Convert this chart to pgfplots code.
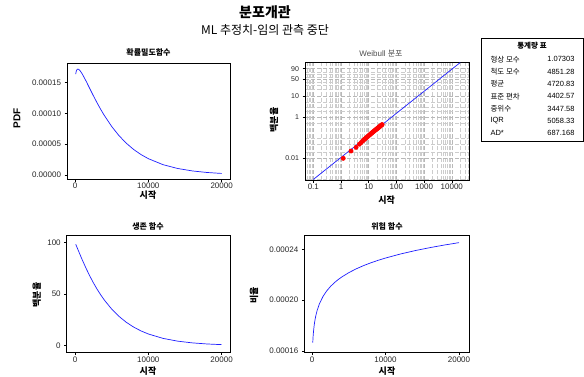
\documentclass[border=0pt]{standalone}
\usepackage{fontspec}
\setmainfont{Liberation Sans}
\newfontfamily\kr{Noto Sans CJK KR}
\usepackage{pgfplots}
\pgfplotsset{compat=1.18}
\definecolor{curve}{RGB}{30,30,255}
\pgfplotsset{
  panel/.style={
    scale only axis, anchor=south west,
    axis line style={line width=0.9pt},
    tick align=outside, major tick length=2.5pt, minor tick length=0pt,
    tick style={black, line width=0.5pt},
    xtick pos=bottom, ytick pos=left,
    scaled ticks=false,
    tick label style={font=\fontsize{8}{9}\selectfont, text=black!85},
    xticklabel style={inner sep=1.5pt},
    /pgf/number format/assume math mode=true,
    xtick={0,10000,20000}, xticklabels={0,10000,20000},
    clip=true,
  }
}
\begin{document}
\begin{tikzpicture}[x=1pt,y=1pt]
\useasboundingbox (0,0) rectangle (584,376);
% titles
\node[font=\kr\bfseries\fontsize{14}{16}\selectfont] at (265,364) {분포개관};
\node[font=\kr\fontsize{12}{14}\selectfont] at (265,346) {ML 추정치-임의 관측 중단};

% Panel 1: PDF
\begin{axis}[panel, at={(67pt,197pt)}, width=163pt, height=116pt,
  xmin=-1090, xmax=21140, ymin=-0.0000065, ymax=0.000182,
  ytick={0,0.00005,0.0001,0.00015}, yticklabels={0.00000,0.00005,0.00010,0.00015}]
\addplot[curve, line width=0.7pt] coordinates {
(100,1.6402e-4)(150,1.6753e-4)(200,1.6961e-4)(300,1.7162e-4)(400,1.7210e-4)(500,1.7170e-4)
(700,1.6942e-4)(1000,1.6402e-4)(1500,1.5286e-4)(2000,1.4088e-4)(2500,1.2898e-4)
(3000,1.1755e-4)(3500,1.0678e-4)(4000,9.674e-5)(5000,7.892e-5)(6000,6.398e-5)
(7000,5.162e-5)(8000,4.148e-5)(9000,3.323e-5)(10000,2.655e-5)(12000,1.682e-5)
(14000,1.058e-5)(16000,6.61e-6)(18000,4.10e-6)(20000,2.54e-6)};
\end{axis}
\node[font=\kr\bfseries\fontsize{8}{9}\selectfont] at (148.5,324) {확률밀도함수};
\node[font=\kr\bfseries\fontsize{9}{10}\selectfont, inner sep=0.5pt] at (148,181) {시작};
\node[font=\bfseries\fontsize{10}{12}\selectfont, rotate=90] at (17,257.7) {PDF};

% Panel 2: Weibull probability plot
\begin{axis}[panel, at={(305pt,196pt)}, width=164pt, height=117.3pt,
  xmode=log, xmin=0.0501, xmax=41687, ymin=-11.64, ymax=1.507,
  xtick={0.1,1,10,100,1000,10000}, xticklabels={0.1,1,10,100,1000,10000},
  minor xtick={0.06,0.07,0.08,0.09,0.2,0.3,0.4,0.5,0.6,0.7,0.8,0.9,2,3,4,5,6,7,8,9,20,30,40,50,60,70,80,90,200,300,400,500,600,700,800,900,2000,3000,4000,5000,6000,7000,8000,9000,20000,30000,40000},
  ytick={-9.2103,-4.6002,-2.2504,-0.3665,0.8340}, yticklabels={0.01,1,10,50,90},
  minor ytick={-11.513,-8.517,-7.600,-6.907,-5.296,-3.902,-3.491,-2.970,-1.500,-1.031,-0.672,-0.087,0.186,0.476},
  yticklabel style={font=\fontsize{7}{8}\selectfont},
  grid=both,
  major grid style={dash pattern=on 4pt off 2pt, black!28, line width=0.5pt},
  minor grid style={dash pattern=on 4pt off 2pt, black!20, line width=0.5pt}]
\addplot[curve, line width=0.7pt] coordinates {(0.1,-11.578)(20000,1.520)};
\addplot[only marks, mark=*, red, mark size=2.2pt] coordinates {
(1.2,-9.21)(2.3,-8.39)(3.5,-7.98)(4.6,-7.62)(5.3,-7.45)(6.0,-7.28)(6.6,-7.15)(7.2,-7.05)
(7.8,-6.96)(8.4,-6.87)(9.0,-6.79)(9.7,-6.70)(10.4,-6.62)(11.1,-6.55)(11.8,-6.47)(12.6,-6.40)
(13.4,-6.33)(14.2,-6.26)(15.0,-6.20)(16.0,-6.13)(17.0,-6.06)(18.0,-6.00)(19.0,-5.94)(20.0,-5.89)
(21.0,-5.84)(22.0,-5.79)(23.0,-5.74)(24.0,-5.69)(25.0,-5.65)(26.0,-5.60)(27.5,-5.54)(29.0,-5.48)(30.5,-5.43)};
\end{axis}
\node[font=\fontsize{8}{9}\selectfont, text=black!70] at (381,322) {Weibull {\kr 분포}};
\node[font=\kr\bfseries\fontsize{9}{10}\selectfont, inner sep=0.5pt] at (386.7,176.2) {시작};
\node[font=\kr\bfseries\fontsize{9}{10}\selectfont, rotate=90] at (274,256) {백분율};

% Panel 3: survival
\begin{axis}[panel, at={(66.7pt,23.3pt)}, width=163.3pt, height=117.7pt,
  xmin=-1132, xmax=21146, ymin=-6.8, ymax=107.5,
  ytick={0,50,100}, yticklabels={0,50,100}]
\addplot[curve, line width=0.7pt] coordinates {
(100,98.460)(200,96.788)(400,93.361)(700,88.227)(1000,83.222)(1500,75.295)(2000,67.954)
(2500,61.208)(3000,55.046)(3500,49.442)(4000,44.359)(5000,35.600)(6000,28.480)(7000,22.720)
(8000,18.083)(9000,14.360)(10000,11.386)(12000,7.119)(14000,4.426)(16000,2.739)(18000,1.686)(20000,1.035)};
\end{axis}
\node[font=\kr\bfseries\fontsize{8}{9}\selectfont] at (148,149.3) {생존 함수};
\node[font=\kr\bfseries\fontsize{9}{10}\selectfont, inner sep=0.5pt] at (148,5) {시작};
\node[font=\kr\bfseries\fontsize{9}{10}\selectfont, rotate=90] at (36.7,81) {백분율};

% Panel 4: hazard
\begin{axis}[panel, at={(304.3pt,23.3pt)}, width=165pt, height=117.7pt,
  xmin=-1050, xmax=21400, ymin=0.0001587, ymax=0.0002513,
  ytick={0.00016,0.0002,0.00024}, yticklabels={0.00016,0.00020,0.00024}]
\addplot[curve, line width=0.7pt] coordinates {
(100,1.66585e-4)(150,1.71596e-4)(200,1.75236e-4)(300,1.80500e-4)(400,1.84336e-4)(500,1.87362e-4)
(700,1.92022e-4)(1000,1.97090e-4)(1500,2.03015e-4)(2000,2.07323e-4)(2500,2.10730e-4)
(3000,2.13554e-4)(3500,2.15972e-4)(4000,2.18089e-4)(5000,2.21672e-4)(6000,2.24642e-4)
(7000,2.27186e-4)(8000,2.29413e-4)(9000,2.31395e-4)(10000,2.33180e-4)(12000,2.36309e-4)
(14000,2.38981e-4)(16000,2.41323e-4)(18000,2.43407e-4)(20000,2.45290e-4)};
\end{axis}
\node[font=\kr\bfseries\fontsize{8}{9}\selectfont] at (387,149.3) {위험 함수};
\node[font=\kr\bfseries\fontsize{9}{10}\selectfont, inner sep=0.5pt] at (387,5) {시작};
\node[font=\kr\bfseries\fontsize{9}{10}\selectfont, rotate=90] at (254,81) {비율};

% statistics table
\draw[line width=0.8pt, fill=white] (481.5,338) rectangle (583,235);
\node[font=\kr\bfseries\fontsize{7.5}{9}\selectfont] at (532,330.3) {통계량 표};
\begin{scope}[every node/.style={font=\fontsize{7.5}{9}\selectfont}]
\node[anchor=west, font=\kr\fontsize{7.5}{9}\selectfont] at (487,316.7) {형상 모수};
\node[anchor=west, font=\kr\fontsize{7.5}{9}\selectfont] at (487,304.4) {척도 모수};
\node[anchor=west, font=\kr\fontsize{7.5}{9}\selectfont] at (487,292.1) {평균};
\node[anchor=west, font=\kr\fontsize{7.5}{9}\selectfont] at (487,279.8) {표준 편차};
\node[anchor=west, font=\kr\fontsize{7.5}{9}\selectfont] at (487,267.5) {중위수};
\node[anchor=west] at (487,255.2) {IQR};
\node[anchor=west] at (487,242.9) {AD*};
\node[anchor=east] at (578,316.7) {1.07303};
\node[anchor=east] at (578,304.4) {4851.28};
\node[anchor=east] at (578,292.1) {4720.83};
\node[anchor=east] at (578,279.8) {4402.57};
\node[anchor=east] at (578,267.5) {3447.58};
\node[anchor=east] at (578,255.2) {5058.33};
\node[anchor=east] at (578,242.9) {687.168};
\end{scope}
\end{tikzpicture}
\end{document}
